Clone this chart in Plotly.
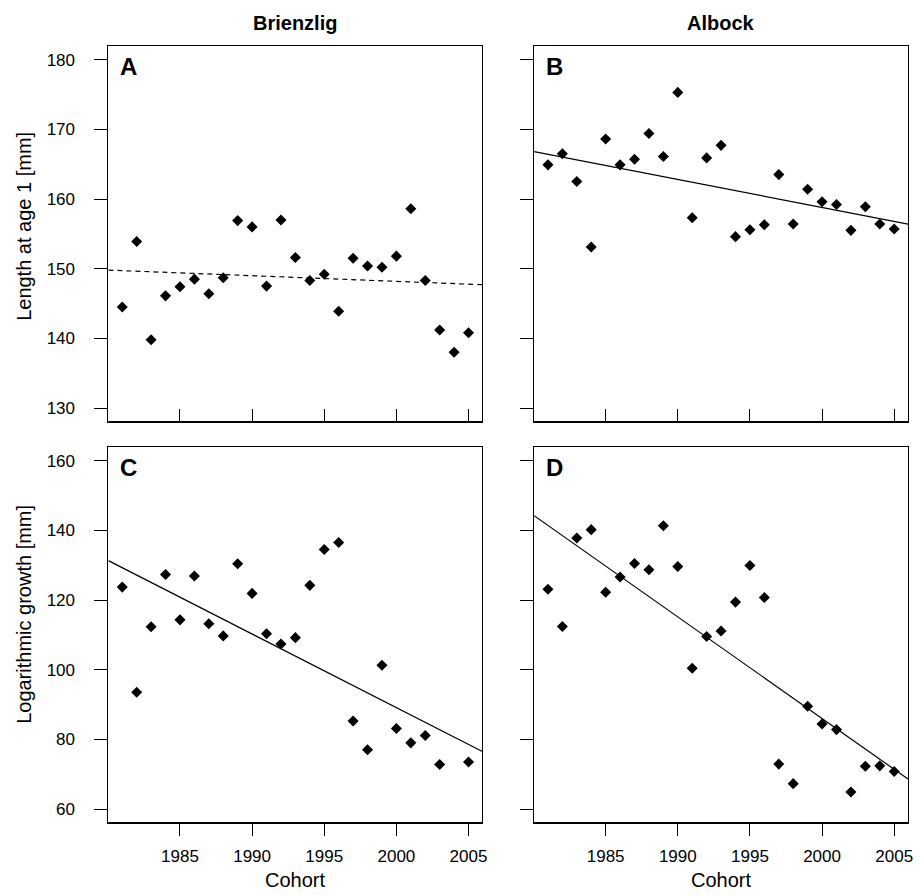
import numpy as np
import plotly.graph_objects as go

# ---------------- data ----------------
years = list(range(1981, 2006))

brienzlig_length = [144.5, 153.9, 139.8, 146.1, 147.4, 148.5, 146.4, 148.7, 156.9, 156.0,
                    147.5, 157.0, 151.6, 148.3, 149.2, 143.9, 151.5, 150.4, 150.2, 151.8,
                    158.6, 148.3, 141.2, 138.0, 140.8]

albock_length = [164.9, 166.5, 162.5, 153.1, 168.6, 164.9, 165.7, 169.4, 166.1, 175.3,
                 157.3, 165.9, 167.7, 154.6, 155.6, 156.3, 163.5, 156.4, 161.4, 159.6,
                 159.2, 155.5, 158.9, 156.4, 155.7]

# Brienzlig growth: no value for 2004
brienzlig_growth = [123.7, 93.5, 112.3, 127.3, 114.3, 126.9, 113.2, 109.7, 130.4, 121.9,
                    110.3, 107.4, 109.2, 124.2, 134.5, 136.5, 85.3, 77.0, 101.3, 83.1,
                    79.0, 81.1, 72.8, None, 73.5]

albock_growth = [123.1, 112.4, 137.8, 140.2, 122.2, 126.6, 130.5, 128.7, 141.3, 129.6,
                 100.4, 109.5, 111.1, 119.4, 129.9, 120.7, 72.9, 67.3, 89.5, 84.4,
                 82.8, 64.9, 72.3, 72.4, 70.8]

# regression lines: (value at 1993, slope per year)
trend_centre_year = 1993
trend_A = (148.75, -0.081)
trend_B = (161.6, -0.401)
trend_C = (103.9, -2.114)
trend_D = (106.4, -2.917)

column_titles = ["Brienzlig", "Albock"]
panel_letters = ["A", "B", "C", "D"]
y_titles = ["Length at age 1 [mm]", "Logarithmic growth [mm]"]
x_title = "Cohort"
x_ticks = [1985, 1990, 1995, 2000, 2005]
y_ticks_top = [130, 140, 150, 160, 170, 180]
y_ticks_bottom = [60, 80, 100, 120, 140, 160]

# ---------------- layout geometry ----------------
W, H = 922, 895
xr = [1980.04, 2005.96]
yr_top = [128, 182]
yr_bot = [56, 164]

col_dom = [[109 / W, 485 / W], [537 / W, 913 / W]]
row_dom = [[1 - 422 / H, 1 - 45.7 / H], [1 - 823 / H, 1 - 446.7 / H]]

FONT = "Liberation Sans, Arial, sans-serif"

fig = go.Figure()

panels = [
    # (series, trend, row, col, dashed)
    (brienzlig_length, trend_A, 0, 0, True),
    (albock_length, trend_B, 0, 1, False),
    (brienzlig_growth, trend_C, 1, 0, False),
    (albock_growth, trend_D, 1, 1, False),
]

layout_axes = {}
for i, (vals, trend, r, c, dashed) in enumerate(panels):
    n = i + 1
    xa = "x" if n == 1 else f"x{n}"
    ya = "y" if n == 1 else f"y{n}"
    xs = [y for y, v in zip(years, vals) if v is not None]
    vs = [v for v in vals if v is not None]

    fig.add_trace(go.Scatter(
        x=xs, y=vs, mode="markers", xaxis=xa, yaxis=ya,
        marker=dict(symbol="diamond", size=8.5, color="black", line=dict(width=0)),
        showlegend=False, hoverinfo="x+y"))

    centre, slope = trend
    lx = np.array(xr)
    fig.add_trace(go.Scatter(
        x=lx, y=centre + slope * (lx - trend_centre_year), mode="lines",
        xaxis=xa, yaxis=ya,
        line=dict(color="black", width=1.2, dash="5px,4px" if dashed else "solid"),
        showlegend=False, hoverinfo="skip"))

    bottom = (r == 1)
    left = (c == 0)
    xkey = "xaxis" if n == 1 else f"xaxis{n}"
    ykey = "yaxis" if n == 1 else f"yaxis{n}"
    layout_axes[xkey] = dict(
        domain=col_dom[c], anchor=ya, range=xr,
        tickmode="array", tickvals=x_ticks, ticktext=[str(t) for t in x_ticks],
        showticklabels=bottom, ticks="outside" if bottom else "inside",
        ticklen=12 if bottom else 13, tickwidth=1, tickcolor="black",
        showline=True, mirror=True, linecolor="black", linewidth=1,
        showgrid=False, zeroline=False,
        tickfont=dict(family=FONT, size=17, color="black"),
        ticklabelstandoff=6,
    )
    layout_axes[ykey] = dict(
        domain=row_dom[r], anchor=xa, range=yr_bot if bottom else yr_top,
        tickmode="array", tickvals=y_ticks_bottom if bottom else y_ticks_top,
        showticklabels=left, ticks="outside", ticklen=13, tickwidth=1, tickcolor="black",
        showline=True, mirror=True, linecolor="black", linewidth=1,
        showgrid=False, zeroline=False,
        tickfont=dict(family=FONT, size=17, color="black"),
        ticklabelstandoff=16,
    )

fig.update_layout(**layout_axes)

annotations = []
shapes = []
for i, (vals, trend, r, c, dashed) in enumerate(panels):
    x0, x1 = col_dom[c]
    y0, y1 = row_dom[r]
    annotations.append(dict(
        text=f"<b>{panel_letters[i]}</b>", xref="paper", yref="paper",
        x=x0 + 10 / W, y=y1 - 5 / H, xanchor="left", yanchor="top",
        showarrow=False, font=dict(family=FONT, size=24, color="black")))
    shapes.append(dict(type="line", xref="paper", yref="paper",
                       x0=x0, x1=x1, y0=y0, y1=y0,
                       line=dict(color="black", width=2)))

for c in range(2):
    x0, x1 = col_dom[c]
    annotations.append(dict(
        text=f"<b>{column_titles[c]}</b>", xref="paper", yref="paper",
        x=(x0 + x1) / 2, y=1 - 23 / H, xanchor="center", yanchor="middle",
        showarrow=False, font=dict(family=FONT, size=20, color="black")))
    annotations.append(dict(
        text=x_title, xref="paper", yref="paper",
        x=(x0 + x1) / 2, y=1 - 880 / H, xanchor="center", yanchor="middle",
        showarrow=False, font=dict(family=FONT, size=20, color="black")))

title_centres = [226, 614]
for r in range(2):
    annotations.append(dict(
        text=y_titles[r], xref="paper", yref="paper", textangle=-90,
        x=24 / W, y=1 - title_centres[r] / H, xanchor="center", yanchor="middle",
        showarrow=False, font=dict(family=FONT, size=20, color="black")))

fig.update_layout(
    width=W, height=H,
    margin=dict(l=0, r=0, t=0, b=0),
    paper_bgcolor="white", plot_bgcolor="white",
    annotations=annotations, shapes=shapes,
    font=dict(family=FONT, color="black"),
)

fig.write_html("out.html",
               config={"displayModeBar": False},
               post_script="document.body.style.margin='0px';document.body.style.padding='0px';")
